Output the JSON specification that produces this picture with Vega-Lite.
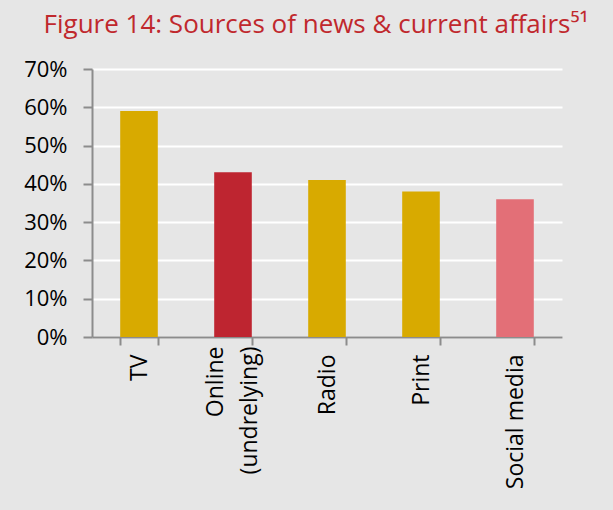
{
  "$schema": "https://vega.github.io/schema/vega-lite/v6.json",
  "autosize": {"type": "none"},
  "width": 470,
  "height": 268,
  "padding": {"left": 92, "top": 69, "right": 51, "bottom": 173},
  "background": "#e6e6e6",
  "title": {
    "text": "Figure 14: Sources of news & current affairs⁵¹",
    "color": "#c0282d",
    "font": "Open Sans",
    "fontSize": 26,
    "fontWeight": "normal",
    "anchor": "middle",
    "dx": -11,
    "offset": 20
  },
  "data": {
    "values": [
      {"source": "TV", "share": 0.59},
      {"source": "Online\n(undrelying)", "share": 0.43},
      {"source": "Radio", "share": 0.41},
      {"source": "Print", "share": 0.38},
      {"source": "Social media", "share": 0.36}
    ]
  },
  "resolve": {"axis": {"x": "independent"}},
  "layer": [
    {
      "mark": {"type": "bar"},
      "encoding": {
        "x": {
          "field": "source",
          "type": "nominal",
          "sort": null,
          "scale": {"paddingInner": 0.6, "paddingOuter": 0.3},
          "axis": {
            "orient": "bottom",
            "title": null,
            "labelAngle": -90,
            "labelAlign": "right",
            "labelBaseline": "middle",
            "labelExpr": "indexof(datum.label, 'Online') == 0 ? '' : datum.label",
            "labelFont": "Open Sans",
            "labelFontSize": 23,
            "labelColor": "#000000",
            "labelPadding": 9,
            "domainColor": "#8c8c8c",
            "domainWidth": 2,
            "tickColor": "#8c8c8c",
            "tickWidth": 2,
            "tickSize": 8,
            "tickBand": "extent",
            "grid": false
          }
        },
        "y": {
          "field": "share",
          "type": "quantitative",
          "scale": {"domain": [0, 0.7]},
          "axis": {
            "title": null,
            "values": [0, 0.1, 0.2, 0.3, 0.4, 0.5, 0.6, 0.7],
            "format": ".0%",
            "labelFont": "Open Sans",
            "labelFontSize": 22,
            "labelColor": "#000000",
            "labelPadding": 16,
            "domainColor": "#8c8c8c",
            "domainWidth": 2,
            "tickColor": "#8c8c8c",
            "tickWidth": 2,
            "tickSize": 9,
            "grid": true,
            "gridColor": "#ffffff",
            "gridWidth": 2
          }
        },
        "color": {
          "field": "source",
          "type": "nominal",
          "legend": null,
          "scale": {
            "domain": ["TV", "Online\n(undrelying)", "Radio", "Print", "Social media"],
            "range": ["#d8aa00", "#be2530", "#d8aa00", "#d8aa00", "#e36f77"]
          }
        }
      }
    },
    {
      "mark": {"type": "bar", "opacity": 0},
      "encoding": {
        "x": {
          "field": "source",
          "type": "nominal",
          "sort": null,
          "axis": {
            "orient": "bottom",
            "title": null,
            "labelAngle": -90,
            "labelAlign": "right",
            "labelBaseline": "middle",
            "labelExpr": "indexof(datum.label, 'Online') == 0 ? split(datum.label, '\\n') : ''",
            "labelLineHeight": 34,
            "labelOffset": -17,
            "labelFont": "Open Sans",
            "labelFontSize": 23,
            "labelColor": "#000000",
            "labelPadding": 9,
            "domain": false,
            "ticks": false,
            "tickSize": 8,
            "grid": false
          }
        }
      }
    }
  ],
  "config": {
    "view": {"stroke": null}
  }
}
